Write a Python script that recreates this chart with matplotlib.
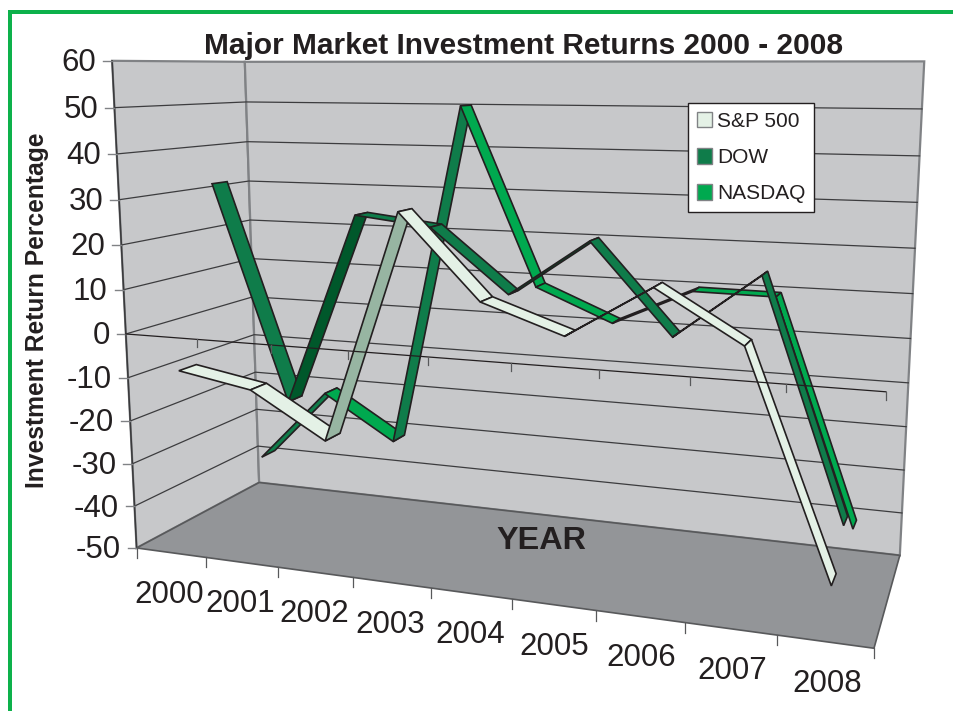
import numpy as np
import matplotlib
matplotlib.use("Agg")
import matplotlib.pyplot as plt
from matplotlib.patches import Patch

plt.rcParams["font.family"] = ["Liberation Sans", "DejaVu Sans"]

years = ["2000", "2001", "2002", "2003", "2004", "2005", "2006", "2007", "2008"]
sp500 = [-9, -12, -22, 29, 11, 5, 16, 5.5, -41]
dow = [32, -18.5, 26, 24, 10, 22.5, 3, 17, -34]
nasdaq = [-38.5, -20.5, -31, 50, 9, 1.7, 10, 9.8, -40.5]
y_ticks = list(range(-50, 61, 10))

INK = "#231F20"
GRID = "#3C3C3E"
WALL_EDGE = "#808285"

# perspective camera fitted to the box corners: (category, value, depth) -> pixel
world = np.array([
    (0, 60, 0), (0, 0, 0), (0, -50, 0), (9, 0, 0), (9, -50, 0),
    (0, 60, 1), (0, -50, 1), (9, 60, 1), (9, -50, 1),
], float)
pixels = np.array([
    (112.5, 60.5), (125, 334), (137, 547.5), (886, 393), (874, 648),
    (245, 62), (259, 483), (924, 61), (900, 555),
], float)
rows, rhs = [], []
for (a, b, c), (u, v) in zip(world, pixels):
    rows.append([a, b, c, 1, 0, 0, 0, 0, -u * a, -u * b, -u * c])
    rows.append([0, 0, 0, 0, a, b, c, 1, -v * a, -v * b, -v * c])
    rhs += [u, v]
cam = np.append(np.linalg.lstsq(np.array(rows), np.array(rhs), rcond=None)[0], 1).reshape(3, 4)


def project(x, y, z):
    h = cam @ np.array([x, y, z, 1.0])
    return h[0] / h[2], h[1] / h[2]


fig = plt.figure(figsize=(9.54, 7.11), dpi=100)
ax = fig.add_axes([0, 0, 1, 1])
ax.set_xlim(0, 954)
ax.set_ylim(711, 0)
ax.axis("off")

# green frame
ax.fill([8, 954, 954, 8], [10, 10, 14, 14], color="#0DB14B", lw=0)
ax.fill([8, 12, 12, 8], [10, 10, 711, 711], color="#0DB14B", lw=0)


def face(corners, fc, ec=WALL_EDGE, lw=1.6, zorder=1):
    pts = [project(*c) for c in corners]
    ax.fill(*zip(*pts), facecolor=fc, edgecolor=ec, lw=lw, joinstyle="miter", zorder=zorder)
    return pts


# walls and floor
face([(0, 60, 0), (0, 60, 1), (0, -50, 1), (0, -50, 0)], "#C7C8CA")
face([(0, 60, 1), (9, 60, 1), (9, -50, 1), (0, -50, 1)], "#C7C8CA")
face([(0, -50, 0), (0, -50, 1), (9, -50, 1), (9, -50, 0)], "#939598", ec="#58595B", lw=1.2)
ax.plot(*zip(project(0, 60, 0), project(0, -50, 0)), color="#3A3A3C", lw=1.1, zorder=2)

# gridlines and value axis
for val in y_ticks:
    p0, p1, p2 = project(0, val, 0), project(0, val, 1), project(9, val, 1)
    if -50 < val < 60:
        ax.plot(*zip(p0, p1, p2), color=GRID, lw=0.9, zorder=2)
    ax.plot([p0[0] - 9, p0[0]], [p0[1], p0[1]], color=WALL_EDGE, lw=1, zorder=2)
    ax.text(p0[0] - 16, p0[1] - 1, str(val), ha="right", va="center_baseline", fontsize=22.5, color=INK)

# floor front ticks and year labels
for i in range(10):
    p = project(i, -50, 0)
    ax.plot([p[0], p[0]], [p[1], p[1] + 10], color="#58595B", lw=0.9, zorder=2)
for i, label in enumerate(years):
    p = project(i + 0.5, -50, 0)
    ax.text(p[0] - 2 + 0.5 * i, p[1] + 42, label, ha="center", va="center", fontsize=22.5, color=INK)

# ribbons, back series first; top face when seen from above, underside otherwise
ribbons = [
    (nasdaq, 0.75, 0.87, "#00A94F", "#0F7C4A"),
    (dow, 0.42, 0.54, "#0F7C4A", "#00582B"),
    (sp500, 0.115, 0.245, "#E4F1E6", "#97B5A2"),
]
for values, z0, z1, top, under in ribbons:
    for i in range(len(values) - 1):
        a = project(i + 0.5, values[i], z0)
        b = project(i + 1.5, values[i + 1], z0)
        c = project(i + 1.5, values[i + 1], z1)
        d = project(i + 0.5, values[i], z1)
        xs, ys = zip(a, b, c, d)
        area = 0.5 * sum(xs[k] * ys[(k + 1) % 4] - xs[(k + 1) % 4] * ys[k] for k in range(4))
        color = top if area < 0 else under
        ax.fill(xs, ys, facecolor=color, edgecolor=INK, lw=1.2, joinstyle="miter", zorder=3)

# category axis at value zero sits in front of the ribbons
p0, p1 = project(0, 0, 0), project(9, 0, 0)
ax.plot(*zip(p0, p1), color=INK, lw=0.9, zorder=4)
for i in range(1, 10):
    p = project(i, 0, 0)
    ax.plot([p[0], p[0]], [p[1], p[1] + 8], color="#58595B", lw=0.9, zorder=4)

ax.text(524, 46, "Major Market Investment Returns 2000 - 2008", ha="center", va="center",
        fontsize=21.5, fontweight="bold", color=INK)
ax.text(37.5, 310, "Investment Return Percentage", rotation=90, ha="center", va="center",
        fontsize=17.7, fontweight="bold", color=INK)
ax.text(541, 541, "YEAR", ha="center", va="center", fontsize=23.3, fontweight="bold", color=INK)

handles = [
    Patch(facecolor="#E4F1E6", edgecolor="#808285", label="S&P 500"),
    Patch(facecolor="#0F7C4A", edgecolor="#808285", label="DOW"),
    Patch(facecolor="#00A94F", edgecolor="#808285", label="NASDAQ"),
]
leg = ax.legend(handles=handles, loc="upper left", bbox_to_anchor=(688 / 954, 1 - 103 / 711),
                borderaxespad=0, fontsize=15, fancybox=False, framealpha=1, edgecolor=INK,
                handlelength=0.74, handleheight=0.78, handletextpad=0.24, labelspacing=0.82,
                borderpad=0.42, labelcolor=INK)
leg.set_zorder(5)
leg.get_frame().set_linewidth(1)

fig.savefig("out.png", dpi=100)
